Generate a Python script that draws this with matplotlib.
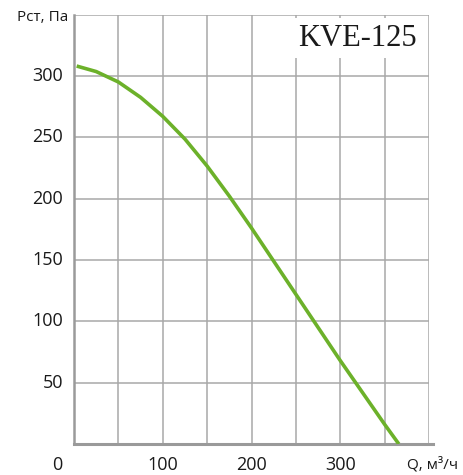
import matplotlib
matplotlib.use("Agg")
import matplotlib.pyplot as plt

# кривая KVE-125
flow_q = [3, 25, 50, 75, 100, 125, 150, 175, 200, 225, 250, 275, 300, 325, 350, 366]
press_p = [308, 303.5, 295, 282.5, 267, 248.5, 226.5, 202, 176, 149, 122, 95, 68, 42, 16, 0]

y_ticks = [50, 100, 150, 200, 250, 300]
x_ticks = [100, 200, 300]
title = "KVE-125"
y_label = "Рст, Па"
x_label = "Q, м³/ч"

grid_color = "#a8a8a8"
curve_color = "#6cb12a"

plt.rcParams["font.family"] = ["Open Sans", "DejaVu Sans"]

fig = plt.figure(figsize=(4.63, 4.75), dpi=100)
ax = fig.add_axes([74 / 463, 1 - 444 / 475, 355 / 463, 429.5 / 475])

ax.set_xlim(0, 400)
ax.set_ylim(0, 350)
ax.set_xticks(range(0, 401, 50))
ax.set_yticks(range(0, 351, 50))
ax.grid(True, color=grid_color, linewidth=1.1)
ax.set_axisbelow(True)
ax.tick_params(length=0, labelbottom=False, labelleft=False)

for side in ["top", "right"]:
    ax.spines[side].set_visible(False)
ax.spines["left"].set_color("#9a9a9a")
ax.spines["left"].set_linewidth(1.8)
ax.spines["bottom"].set_visible(False)
ax.axhline(0, xmin=0, xmax=1.011, color="#9a9a9a", linewidth=2.2, clip_on=False, zorder=3)

ax.plot(flow_q, press_p, color=curve_color, linewidth=2.6,
        solid_capstyle="butt", solid_joinstyle="round", zorder=4)

fs = 13
for v in y_ticks:
    ax.annotate(str(v), xy=(0, v), xycoords="data", xytext=(-8, 0), textcoords="offset points",
                ha="right", va="center", fontsize=fs, color="#1a1a1a")
for v in x_ticks:
    ax.annotate(str(v), xy=(v, 0), xycoords="data", xytext=(0, -15), textcoords="offset points",
                ha="center", va="center", fontsize=fs, color="#1a1a1a")
ax.annotate("0", xy=(0, 0), xycoords="data", xytext=(-12, -15), textcoords="offset points",
            ha="center", va="center", fontsize=fs, color="#1a1a1a")
ax.annotate(x_label, xy=(375, 0), xycoords="data", xytext=(0, -15), textcoords="offset points",
            ha="left", va="center", fontsize=fs - 2, color="#1a1a1a")
ax.annotate(y_label, xy=(0, 350), xycoords="data", xytext=(-4, -2), textcoords="offset points",
            ha="right", va="center", fontsize=fs - 2, color="#1a1a1a")

ax.text(0.965, 0.945, title, transform=ax.transAxes, ha="right", va="center",
        fontsize=22, family="Liberation Serif", color="#1a1a1a", zorder=5,
        bbox=dict(facecolor="white", edgecolor="none", pad=4))

fig.savefig("out.png", dpi=100)
